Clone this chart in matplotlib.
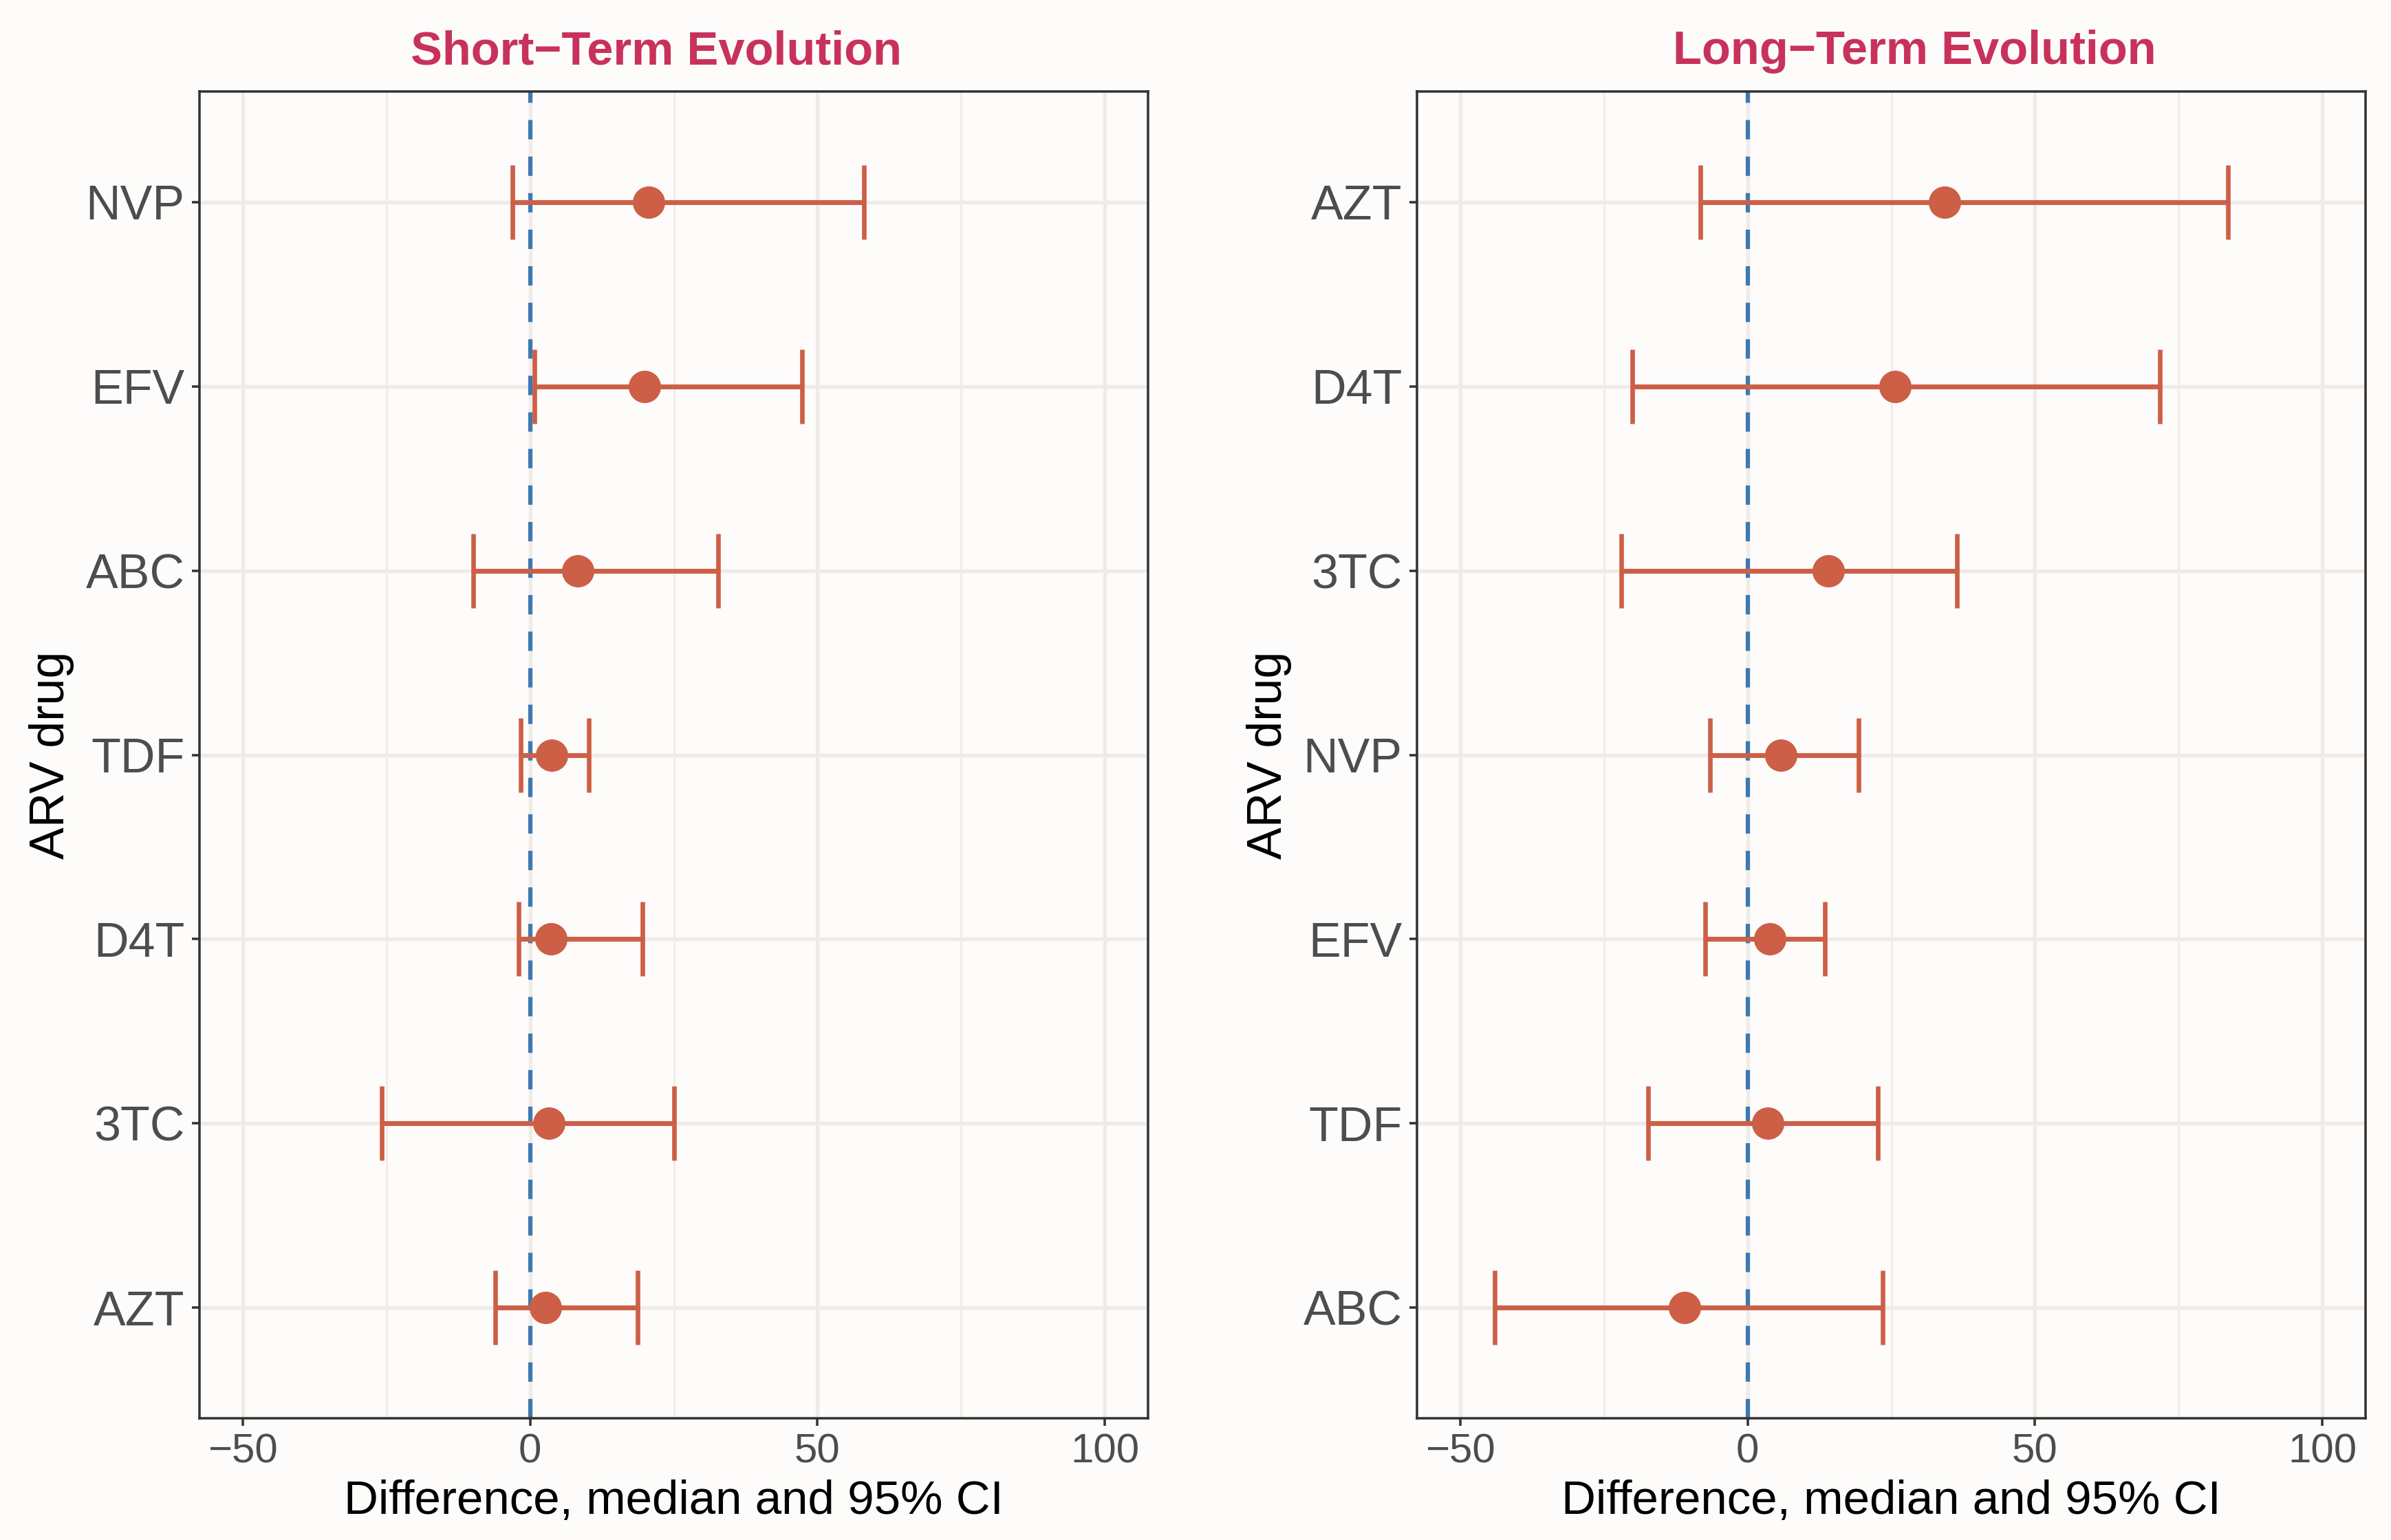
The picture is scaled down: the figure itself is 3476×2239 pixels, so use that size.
import matplotlib
matplotlib.use("Agg")
import matplotlib.pyplot as plt
from matplotlib.ticker import MultipleLocator
import numpy as np

plt.rcParams['font.family'] = ['Liberation Sans', 'DejaVu Sans']

# ---- data (top to bottom) ----
short_drugs = ["NVP", "EFV", "ABC", "TDF", "D4T", "3TC", "AZT"]
short_median = [20.6, 19.9, 8.3, 3.75, 3.6, 3.3, 2.7]
short_low = [-3.1, 0.75, -9.9, -1.6, -1.95, -25.8, -6.0]
short_high = [58.1, 47.3, 32.7, 10.2, 19.5, 25.0, 18.7]

long_drugs = ["AZT", "D4T", "3TC", "NVP", "EFV", "TDF", "ABC"]
long_median = [34.3, 25.7, 14.0, 5.75, 3.9, 3.5, -11.0]
long_low = [-8.2, -20.1, -22.0, -6.55, -7.4, -17.3, -44.0]
long_high = [83.6, 71.7, 36.4, 19.3, 13.4, 22.7, 23.5]

titles = ["Short\u2212Term Evolution", "Long\u2212Term Evolution"]
xlabel = "Difference, median and 95% CI"
ylabel = "ARV drug"
xticks = [-50, 0, 50, 100]

W, H = 3476, 2239
DPI = 300
fig = plt.figure(figsize=(W / DPI, H / DPI), dpi=DPI, facecolor="#FDFCFB")

BAR = "#CD5F47"
GRID = "#EFEBE8"
TITLE_C = "#C8325A"
VLINE = "#3F79AF"

panels = [
    (short_drugs, short_median, short_low, short_high),
    (long_drugs, long_median, long_low, long_high),
]
lefts = [290 / W, 2060 / W]
title_x = [954 / W, 2783 / W]
bottom = 1 - 2062 / H
height = (2062 - 133) / H
width = (1669 - 290) / W

for i, (drugs, med, lo, hi) in enumerate(panels):
    ax = fig.add_axes([lefts[i], bottom, width, height])
    ax.set_facecolor("#FDFCFB")
    n = len(drugs)
    y = np.arange(n)[::-1]
    med = np.array(med)
    lo = np.array(lo)
    hi = np.array(hi)

    ax.set_xlim(-57.5, 107.5)
    ax.set_ylim(-0.6, n - 1 + 0.6)

    ax.xaxis.set_major_locator(MultipleLocator(50))
    ax.xaxis.set_minor_locator(MultipleLocator(25))
    ax.set_xticks(xticks)
    ax.set_yticks(y)
    ax.set_yticklabels(drugs)

    ax.grid(which="major", axis="both", color=GRID, lw=1.3, zorder=0)
    ax.grid(which="minor", axis="x", color=GRID, lw=0.65, zorder=0)
    ax.set_axisbelow(True)

    ax.axvline(0, color=VLINE, lw=1.5, linestyle=(0, (4.5, 4.0)), zorder=2)

    ax.errorbar(med, y, xerr=[med - lo, hi - med], fmt="none",
                ecolor=BAR, elinewidth=1.7, capsize=13, capthick=1.6, zorder=3)
    ax.plot(med, y, "o", color=BAR, markersize=11.3, markeredgewidth=0, zorder=4)

    for s in ax.spines.values():
        s.set_color("#333333")
        s.set_linewidth(0.85)

    ax.tick_params(axis="both", which="major", color="#333333", width=0.85,
                   length=2.6, pad=2.5)
    ax.tick_params(axis="x", which="minor", length=0)
    ax.tick_params(axis="y", labelsize=16.8, labelcolor="#4D4D4D")
    ax.tick_params(axis="x", labelsize=14.4, labelcolor="#4D4D4D")

    ax.set_xlabel(xlabel, fontsize=16.6, color="black", labelpad=3)
    ax.set_ylabel(ylabel, fontsize=16.8, color="black", labelpad=4)

    fig.text(title_x[i], 1 - 75 / H, titles[i], ha="center", va="center",
             fontsize=16.5, fontweight="bold", color=TITLE_C)

fig.savefig("out.png", dpi=DPI, facecolor=fig.get_facecolor())
